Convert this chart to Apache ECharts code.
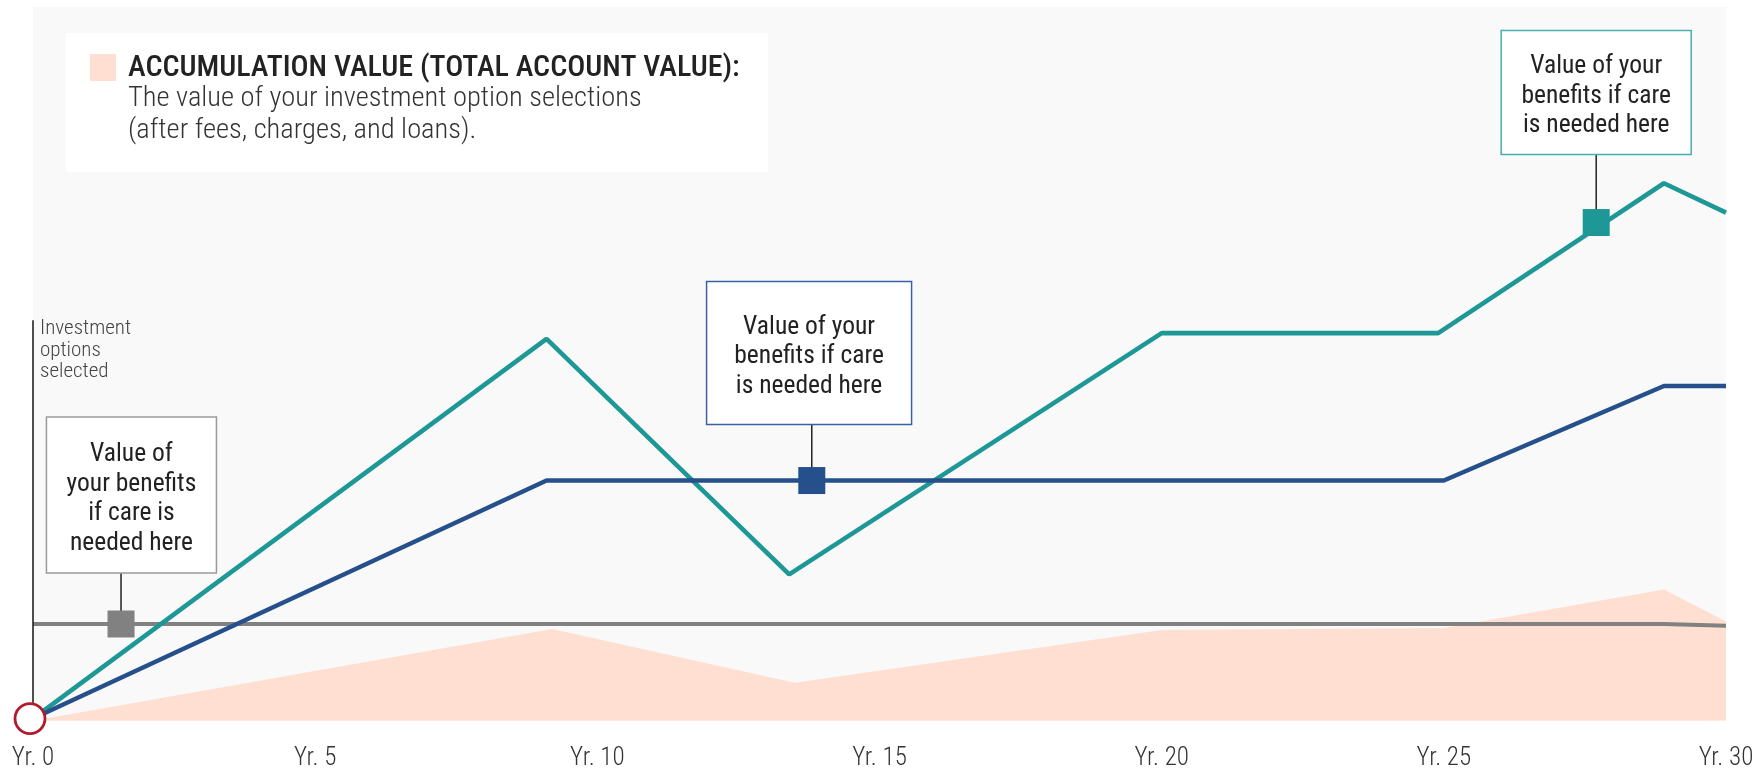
<!DOCTYPE html>
<html>
<head>
<meta charset="utf-8">
<script src="https://cdn.jsdelivr.net/npm/echarts@6.0.0/dist/echarts.min.js"></script>
<style>
  html, body { margin: 0; padding: 0; background: #fff; }
  #chart { width: 1754px; height: 768px; }
</style>
</head>
<body>
<div id="chart"></div>
<script>
// values (x in years, y in arbitrary units 0..100)
const tealYears = [0, 9.1, 13.4, 20, 24.9, 28.9, 30];
const tealValues = [0.3, 53.5, 20.5, 54.3, 54.3, 75.3, 71.2];

const navyYears = [0, 9.1, 25, 28.9, 30];
const navyValues = [0.3, 33.65, 33.65, 46.9, 46.9];

const grayYears = [0, 28.9, 30];
const grayValues = [13.55, 13.55, 13.3];

const accumYears = [0, 9.2, 13.5, 20, 25, 28.9, 30];
const accumValues = [0, 12.85, 5.3, 12.7, 13.0, 18.4, 13.9];

const calloutYears = [1.56, 13.8, 27.7];
const calloutValues = [13.55, 33.65, 69.8];
const calloutTexts = [
    'Value of\nyour benefits\nif care is\nneeded here',
    'Value of your\nbenefits if care\nis needed here',
    'Value of your\nbenefits if care\nis needed here'
];

const axisTop = 56.1; // where the "investment options" line stops
const xTicks = [0, 5, 10, 15, 20, 25, 30];

const FONT = '"Roboto Condensed", "Liberation Sans Narrow", Roboto, sans-serif';
const TEAL = '#1e9896';
const NAVY = '#25508c';
const GRAY = '#818181';
const PEACH = '#ffdfd1';

const calloutColors = [GRAY, NAVY, TEAL];
const calloutBorders = ['#9a9a9a', '#3a62a0', '#4aaeac'];
// box layout relative to the marker: center offset, size, gap from marker to box bottom
const calloutBoxes = [
    { dx: 10.4, width: 170, height: 156, gap: 51 },
    { dx: -2.7, width: 205, height: 143, gap: 56 },
    { dx: 0, width: 190, height: 124, gap: 68 }
];

const pairs = (xs, ys) => xs.map((x, i) => [x, ys[i]]);

function renderCallout(params, api) {
    const i = params.dataIndex;
    const p = api.coord([api.value(0), api.value(1)]);
    const box = calloutBoxes[i];
    const cx = p[0] + box.dx;
    const bottom = p[1] - box.gap;
    const top = bottom - box.height;
    return {
        type: 'group',
        children: [
            {
                type: 'line',
                shape: { x1: p[0], y1: p[1], x2: p[0], y2: bottom },
                style: { stroke: '#222', lineWidth: 1.5 }
            },
            {
                type: 'rect',
                shape: { x: cx - box.width / 2, y: top, width: box.width, height: box.height },
                style: { fill: '#fff', stroke: calloutBorders[i], lineWidth: 1.5 }
            },
            {
                type: 'text',
                x: cx,
                y: (top + bottom) / 2 + 4,
                style: {
                    text: calloutTexts[i],
                    align: 'center',
                    verticalAlign: 'middle',
                    fontFamily: FONT,
                    fontSize: 25.5,
                    lineHeight: 29.5,
                    fill: '#222'
                }
            }
        ]
    };
}

const chart = echarts.init(document.getElementById('chart'));

const option = {
    backgroundColor: '#fff',
    animation: false,
    grid: {
        left: 33,
        right: 28,
        top: 7,
        bottom: 47.3,
        containLabel: false,
        outerBoundsMode: 'none',
        show: true,
        backgroundColor: '#f9f9f9',
        borderWidth: 0
    },
    xAxis: {
        type: 'value',
        min: 0,
        max: 30,
        interval: 5,
        axisLine: { show: false },
        axisTick: { show: false },
        splitLine: { show: false },
        axisLabel: {
            margin: 26,
            color: '#333',
            fontFamily: FONT,
            fontWeight: 300,
            fontSize: 25,
            formatter: (v) => xTicks.includes(v) ? 'Yr. ' + v : ''
        }
    },
    yAxis: {
        type: 'value',
        min: 0,
        max: 100,
        show: false
    },
    graphic: [
        {
            type: 'rect',
            shape: { x: 66, y: 33, width: 702, height: 139 },
            style: { fill: '#fff' },
            z: 100
        },
        {
            type: 'rect',
            shape: { x: 90, y: 54, width: 26, height: 27 },
            style: { fill: PEACH },
            z: 101
        },
        {
            type: 'text',
            x: 128,
            y: 68,
            style: {
                text: 'ACCUMULATION VALUE (TOTAL ACCOUNT VALUE):',
                fontFamily: FONT,
                fontWeight: 500,
                fontSize: 30,
                fill: '#222',
                verticalAlign: 'middle'
            },
            z: 101
        },
        {
            type: 'text',
            x: 128,
            y: 115,
            style: {
                text: 'The value of your investment option selections\n(after fees, charges, and loans).',
                fontFamily: FONT,
                fontWeight: 300,
                fontSize: 28.5,
                lineHeight: 31.3,
                fill: '#333',
                verticalAlign: 'middle'
            },
            z: 101
        }
    ],
    series: [
        {
            name: 'Accumulation value',
            type: 'line',
            z: 1,
            symbol: 'none',
            data: pairs(accumYears, accumValues),
            lineStyle: { width: 0 },
            areaStyle: { color: PEACH, opacity: 1 }
        },
        {
            name: 'Guaranteed',
            type: 'line',
            z: 2,
            symbol: 'none',
            data: pairs(grayYears, grayValues),
            lineStyle: { color: GRAY, width: 4 }
        },
        {
            name: 'Teal',
            type: 'line',
            z: 3,
            symbol: 'none',
            data: pairs(tealYears, tealValues),
            lineStyle: { color: TEAL, width: 4.6 }
        },
        {
            name: 'Navy',
            type: 'line',
            z: 4,
            symbol: 'none',
            data: pairs(navyYears, navyValues),
            lineStyle: { color: NAVY, width: 4.4 }
        },
        {
            name: 'Investment axis',
            type: 'line',
            z: 5,
            symbol: 'none',
            data: [[0, 0], [0, axisTop]],
            lineStyle: { color: '#222', width: 1.6 },
            endLabel: {
                show: true,
                formatter: 'Investment\noptions\nselected',
                fontFamily: FONT,
                fontWeight: 300,
                fontSize: 21,
                lineHeight: 21.5,
                color: '#444',
                align: 'left',
                verticalAlign: 'top',
                offset: [-1, -2]
            }
        },
        {
            name: 'Callouts',
            type: 'custom',
            z: 6,
            clip: false,
            renderItem: renderCallout,
            data: pairs(calloutYears, calloutValues),
            encode: { x: 0, y: 1 }
        },
        {
            name: 'Markers',
            type: 'scatter',
            z: 7,
            symbol: 'rect',
            symbolSize: 27,
            clip: false,
            data: calloutYears.map((x, i) => ({
                value: [x, calloutValues[i]],
                itemStyle: { color: calloutColors[i], opacity: 1 }
            }))
        },
        {
            name: 'Start',
            type: 'scatter',
            z: 8,
            symbol: 'circle',
            symbolSize: 30,
            symbolOffset: [-3, 0],
            clip: false,
            data: [[0, 0.3]],
            itemStyle: { color: '#fff', borderColor: '#b01c2e', borderWidth: 2.8, opacity: 1 }
        }
    ]
};

chart.setOption(option);
</script>
</body>
</html>
